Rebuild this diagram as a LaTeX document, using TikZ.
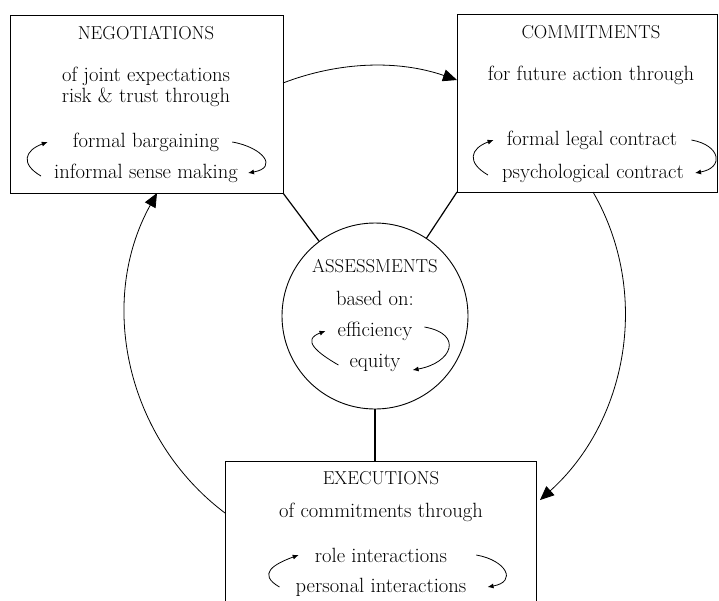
\documentclass[tikz,border=0pt]{standalone}
\usetikzlibrary{arrows.meta}

\tikzset{
  box/.style={draw, line width=0.9pt, inner sep=0pt, outer sep=0pt},
  txt/.style={inner sep=0pt},
  ttl/.style={inner sep=0pt, font=\fontsize{18.7}{21}\selectfont},
  cyc/.style={-{Latex[length=6pt,width=5pt]}, line width=0.8pt},
  flow/.style={-{Triangle[length=14pt,width=12pt]}, line width=0.8pt},
  link/.style={line width=1.2pt},
  lbend/.style={out=150, in=200, looseness=1.8},
  rbend/.style={out=-10, in=10, looseness=2.3},
}

\begin{document}
\begin{tikzpicture}[x=1pt, y=-1pt, font=\fontsize{20.6}{23}\selectfont]
  \clip (0,0) rectangle (719,600);

  % 方框
  \node[box, minimum width=273pt, minimum height=178pt] (neg) at (146.5,104) {};
  \node[box, minimum width=260pt, minimum height=178pt] (com) at (587,103) {};
  \node[box, circle, minimum size=186pt] (asmt) at (375,316) {};
  \node[box, minimum width=311pt, minimum height=160pt] (exe) at (380.5,541) {};

  % 文字
  \node[ttl] (negT) at (146,33) {NEGOTIATIONS};
  \node[txt] (negA) at (146,76) {of joint expectations};
  \node[txt] (negB) at (146,97) {risk \& trust through};
  \node[txt] (neg1) at (146,142) {formal bargaining};
  \node[txt] (neg2) at (146,173) {informal sense making};

  \node[ttl] (comT) at (591,32) {COMMITMENTS};
  \node[txt] (comA) at (591,75) {for future action through};
  \node[txt] (com1) at (592,140) {formal legal contract};
  \node[txt] (com2) at (593,173) {psychological contract};

  \node[ttl] (asmtT) at (375,266) {ASSESSMENTS};
  \node[txt] (asmtA) at (375,298) {based on:};
  \node[txt] (asmt1) at (375,331) {efficiency};
  \node[txt] (asmt2) at (375,363) {equity};

  \node[ttl] (exeT) at (381,478) {EXECUTIONS};
  \node[txt] (exeA) at (381,512) {of commitments through};
  \node[txt] (exe1) at (381,555) {role interactions};
  \node[txt] (exe2) at (381,587) {personal interactions};

  % 小循环箭头
  \draw[cyc] ([xshift=-13pt,yshift=-3pt]neg2.west) to[lbend] ([xshift=-25pt]neg1.west);
  \draw[cyc] ([xshift=13pt]neg1.east) to[rbend] ([xshift=10pt]neg2.east);
  \draw[cyc] ([xshift=-14pt,yshift=-2pt]com2.west) to[lbend] ([xshift=-13pt]com1.west);
  \draw[cyc] ([xshift=14pt]com1.east) to[rbend] ([xshift=11pt]com2.east);
  \draw[cyc] ([xshift=-11pt,yshift=-2pt]asmt2.west) to[lbend] ([xshift=-12pt]asmt1.west);
  \draw[cyc] ([xshift=12pt,yshift=4pt]asmt1.east) to[rbend] ([xshift=12pt,yshift=-7pt]asmt2.east);
  \draw[cyc] ([xshift=-16pt]exe2.west) to[lbend] ([xshift=-16pt]exe1.west);
  \draw[cyc] ([xshift=29pt]exe1.east) to[rbend] ([xshift=21pt]exe2.east);

  % 大循环
  \draw[flow] ([yshift=21pt]neg.east) to[bend left=20, looseness=0.9] ([yshift=23pt]com.west);
  \draw[flow] ([xshift=6pt]com.south) to[out=-60, in=42, looseness=0.96] ([xshift=4pt,yshift=41pt]exe.east);
  \draw[flow] ([yshift=28pt]exe.west) to[out=143, in=-119, looseness=0.97] ([xshift=10.5pt]neg.south);

  % 连线
  \draw[link] (neg.south east) -- (asmt);
  \draw[link] (com.south west) -- (asmt);
  \draw[link] (asmt.south) -- (asmt.south |- exe.north);
\end{tikzpicture}
\end{document}
